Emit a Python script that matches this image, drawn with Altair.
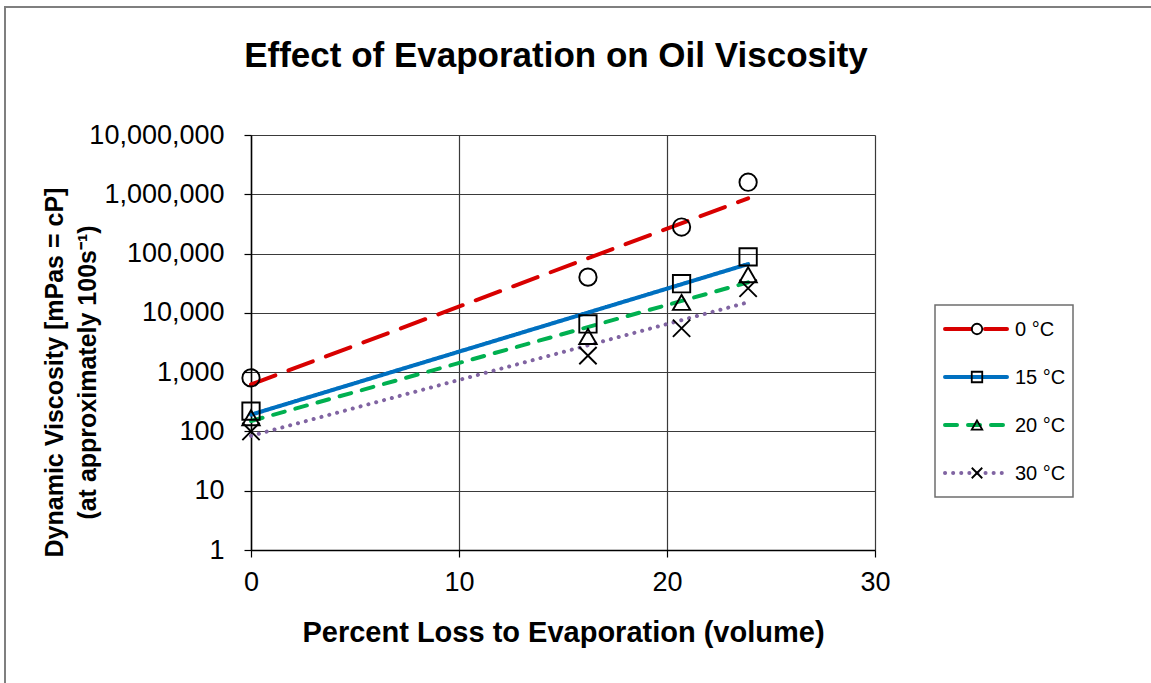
import altair as alt
import numpy as np
import pandas as pd

# Percent of oil volume lost to evaporation
loss = [0, 16.2, 20.7, 23.9]

# Temperature series
temps = ["0 °C", "15 °C", "20 °C", "30 °C"]

# Dynamic viscosity (mPa·s) per temperature at each loss level
visc_0 = [800, 40000, 280000, 1600000]
visc_15 = [220, 6500, 31000, 88000]
visc_20 = [170, 4000, 15000, 44000]
visc_30 = [100, 1900, 5500, 26000]

y_ticks = [1, 10, 100, 1000, 10000, 100000, 1000000, 10000000]
x_ticks = [0, 10, 20, 30]

chart_title = "Effect of Evaporation on Oil Viscosity"

series_vals = [visc_0, visc_15, visc_20, visc_30]

colors = ["#D80000", "#0070C0", "#00B050", "#8064A2"]
dashes = [[26, 14], [1, 0], [12, 11], [0.1, 8]]
shapes = ["circle", "square", "triangle-up", "M-1,-1L1,1M-1,1L1,-1"]

FONT = "Liberation Sans"

# Measured points
rows = []
for name, vals in zip(temps, series_vals):
    for x, v in zip(loss, vals):
        rows.append({"series": name, "loss": x, "visc": v})
points = pd.DataFrame(rows)

# Exponential trendlines: least-squares fit of log10(viscosity) against loss
trend_rows = []
for name, vals in zip(temps, series_vals):
    slope, intercept = np.polyfit(loss, np.log10(vals), 1)
    for x in (min(loss), max(loss)):
        trend_rows.append({"series": name, "loss": x, "visc": 10 ** (intercept + slope * x)})
trend = pd.DataFrame(trend_rows)

x_enc = alt.X(
    "loss:Q",
    scale=alt.Scale(domain=[0, 30], nice=False),
    axis=alt.Axis(
        values=x_ticks,
        title="Percent Loss to Evaporation (volume)",
        labelPadding=12,
        titlePadding=23,
    ),
)
y_enc = alt.Y(
    "visc:Q",
    scale=alt.Scale(type="log", domain=[1, 10000000], nice=False),
    axis=alt.Axis(
        values=y_ticks,
        format=",d",
        title=["Dynamic Viscosity [mPas = cP]", "(at approximately 100s⁻¹)"],
        titleFontSize=25,
        titleLineHeight=33,
        labelPadding=20,
        titleX=-184,
        titleY=237,
        titleAlign="center",
        titleBaseline="bottom",
        titleAngle=270,
    ),
)

lines = alt.Chart(trend).mark_line(strokeWidth=4, strokeCap="round").encode(
    x=x_enc,
    y=y_enc,
    color=alt.Color("series:N", scale=alt.Scale(domain=temps, range=colors), legend=None),
    strokeDash=alt.StrokeDash("series:N", scale=alt.Scale(domain=temps, range=dashes), legend=None),
)

marks = alt.Chart(points).mark_point(
    filled=False, color="black", size=300, strokeWidth=1.9, opacity=1
).encode(
    x="loss:Q",
    y="visc:Q",
    shape=alt.Shape("series:N", scale=alt.Scale(domain=temps, range=shapes), legend=None),
)

one = pd.DataFrame({"k": [0]})

# Chart heading
heading = alt.Chart(pd.DataFrame({"t": [chart_title]})).mark_text(
    align="center", baseline="alphabetic", font=FONT, fontSize=35, fontWeight="bold", color="black"
).encode(x=alt.value(305), y=alt.value(-68), text="t:N")

# Hand-built legend box
legend_layers = [
    alt.Chart(one).mark_rect(fillOpacity=0, stroke="#6e6e6e", strokeWidth=1.5).encode(
        x=alt.value(684), x2=alt.value(822), y=alt.value(170), y2=alt.value(362)
    )
]
for i, name in enumerate(temps):
    ypos = 194 + 48 * i
    lab = pd.DataFrame({"series": [name]})
    legend_layers.append(
        alt.Chart(lab).mark_rule(
            strokeWidth=4, strokeCap="round", color=colors[i], strokeDash=dashes[i]
        ).encode(x=alt.value(694), x2=alt.value(756), y=alt.value(ypos))
    )
    legend_layers.append(
        alt.Chart(lab).mark_point(
            filled=False, color="black", size=110, strokeWidth=1.8, shape=shapes[i], opacity=1
        ).encode(x=alt.value(726), y=alt.value(ypos))
    )
    legend_layers.append(
        alt.Chart(lab).mark_text(
            align="left", baseline="middle", font=FONT, fontSize=20, color="black"
        ).encode(x=alt.value(764), y=alt.value(ypos + 1), text="series:N")
    )

# Outer frame of the figure
frame = alt.Chart(one).mark_rect(fillOpacity=0, stroke="#7f7f7f", strokeWidth=2).encode(
    x=alt.value(-246), x2=alt.value(920), y=alt.value(-128), y2=alt.value(570)
)

chart = (
    alt.layer(lines, marks, heading, *legend_layers, frame)
    .properties(
        width=624,
        height=415,
        autosize=alt.AutoSizeParams(type="none"),
        padding={"left": 251, "top": 135, "right": 276, "bottom": 133},
    )
    .configure_view(strokeWidth=0)
    .configure_axis(
        labelFont=FONT,
        labelFontSize=27,
        labelColor="black",
        labelFlush=False,
        titleFont=FONT,
        titleFontSize=29,
        titleFontWeight="bold",
        titleColor="black",
        domainColor="black",
        domainWidth=1.5,
        tickColor="black",
        tickSize=7,
        tickWidth=1.2,
        gridColor="#3a3a3a",
        gridWidth=1.2,
        gridOpacity=1,
    )
)

chart.save("out.html", embed_options={"renderer": "svg", "actions": False})
